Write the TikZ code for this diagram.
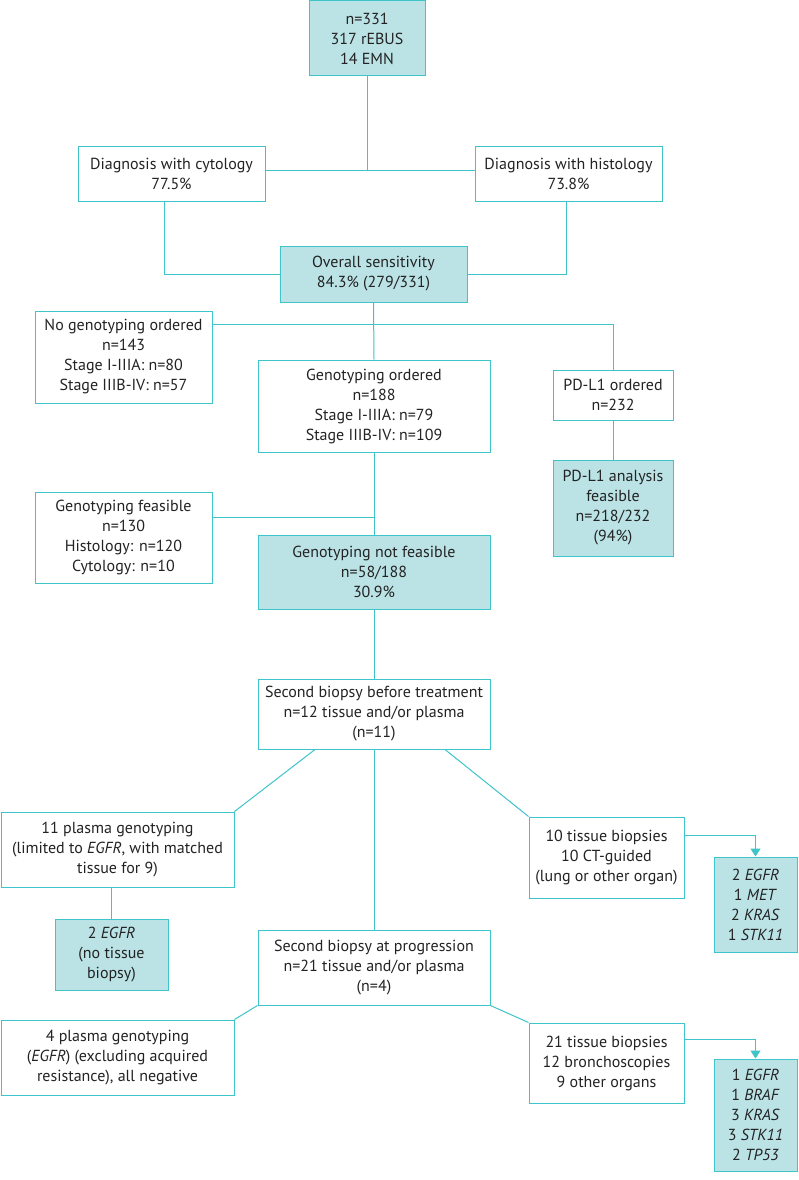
\documentclass[tikz,border=0pt]{standalone}
\usepackage{fontspec}
\setmainfont{PT Sans}
\usetikzlibrary{arrows.meta}
\definecolor{tealline}{RGB}{62,196,201}
\definecolor{tealfill}{RGB}{187,227,230}
\definecolor{txt}{RGB}{35,35,35}
\tikzset{
  box/.style={draw=tealline, line width=1pt, rectangle, align=center, inner sep=0pt,
    font=\fontsize{16}{20}\selectfont, text=txt},
  fbox/.style={box, fill=tealfill},
  conn/.style={draw=tealline, line width=1pt},
  arr/.style={conn, -{Triangle[width=10pt,length=8pt]}}
}
\begin{document}
\begin{tikzpicture}[x=1pt,y=-1pt]
\useasboundingbox (0,0) rectangle (798,1180);
\fill[white] (0,0) rectangle (798,1180);
\node[fbox, minimum width=116pt, minimum height=75pt] (top) at (367,38.5) {n=331\\317 rEBUS\\14 EMN};
\node[box, minimum width=187pt, minimum height=55pt] (cyt) at (171.5,173.5) {Diagnosis with cytology\\77.5\%};
\node[box, minimum width=187pt, minimum height=55pt] (his) at (568.5,173.5) {Diagnosis with histology\\73.8\%};
\node[fbox, minimum width=187pt, minimum height=56pt] (ovr) at (373.5,274) {Overall sensitivity\\84.3\% (279/331)};
\node[box, minimum width=177pt, minimum height=92pt] (nog) at (123.5,357) {No genotyping ordered\\n=143\\Stage I-IIIA: n=80\\Stage IIIB-IV: n=57};
\node[box, minimum width=232pt, minimum height=92pt] (gen) at (374,406) {Genotyping ordered\\n=188\\Stage I-IIIA: n=79\\Stage IIIB-IV: n=109};
\node[box, minimum width=120pt, minimum height=50pt] (pdo) at (613,395) {PD-L1 ordered\\n=232};
\node[fbox, minimum width=120pt, minimum height=96pt] (pdf) at (613,508) {PD-L1 analysis\\feasible\\n=218/232\\(94\%)};
\node[box, minimum width=177pt, minimum height=91pt] (gfe) at (123.5,537.5) {Genotyping feasible\\n=130\\Histology: n=120\\Cytology: n=10};
\node[fbox, minimum width=232pt, minimum height=74pt] (gnf) at (374,572) {Genotyping not feasible\\n=58/188\\30.9\%};
\node[box, minimum width=232pt, minimum height=70pt] (sbb) at (374,714) {Second biopsy before treatment\\n=12 tissue and/or plasma\\(n=11)};
\node[box, minimum width=233pt, minimum height=75pt] (pla) at (117.5,849.5) {11 plasma genotyping\\(limited to \textit{EGFR}, with matched\\tissue for 9)};
\node[box, minimum width=155pt, minimum height=81pt] (tis) at (606.5,857.5) {10 tissue biopsies\\10 CT-guided\\(lung or other organ)};
\node[fbox, minimum width=83pt, minimum height=95pt] (res1) at (755.5,904.5) {2 \textit{EGFR}\\1 \textit{MET}\\2 \textit{KRAS}\\1 \textit{STK11}};
\node[fbox, minimum width=113pt, minimum height=71pt] (egf) at (111.5,954.5) {2 \textit{EGFR}\\(no tissue\\biopsy)};
\node[box, minimum width=232pt, minimum height=75pt] (sbp) at (374,967.5) {Second biopsy at progression\\n=21 tissue and/or plasma\\(n=4)};
\node[box, minimum width=233pt, minimum height=75pt] (pl4) at (117.5,1057.5) {4 plasma genotyping\\(\textit{EGFR}) (excluding acquired\\resistance), all negative};
\node[box, minimum width=155pt, minimum height=80pt] (t21) at (606.5,1063) {21 tissue biopsies\\12 bronchoscopies\\9 other organs};
\node[fbox, minimum width=83pt, minimum height=112pt] (res2) at (755.5,1115) {1 \textit{EGFR}\\1 \textit{BRAF}\\3 \textit{KRAS}\\3 \textit{STK11}\\2 \textit{TP53}};

\draw[conn] (top.south) -- ([yshift=3.5pt]top.south |- cyt.east);
\draw[conn] ([yshift=3.5pt]cyt.east) -- ([yshift=3.5pt]his.west);
\draw[conn] ([xshift=-7.5pt]cyt.south) |- (ovr.west);
\draw[conn] ([xshift=-2.5pt]his.south) |- (ovr.east);
\draw[conn] (ovr.south) -- (gen.north);
\draw[conn] ([yshift=-14pt]nog.north east) -| (pdo.north);
\draw[conn] (pdo.south) -- (pdf.north);
\draw[conn] (gen.south) -- (gnf.north);
\draw[conn] ([yshift=20.5pt]gfe.east) -| (gen.south);
\draw[conn] (gnf.south) -- (sbb.north);
\draw[conn] ([xshift=-59pt]sbb.south) -- (pla.north east);
\draw[conn] ([xshift=71pt]sbb.south) -- (tis.north west);
\draw[conn] (sbb.south) -- (sbp.north);
\draw[conn] (egf.north |- pla.south) -- (egf.north);
\draw[arr] ([yshift=22.5pt]tis.east) -| (res1.north);
\draw[conn] (sbp.south west) -- (pl4.north east);
\draw[conn] (sbp.south east) -- (t21.north west);
\draw[arr] ([yshift=24pt]t21.east) -| (res2.north);
\end{tikzpicture}
\end{document}
